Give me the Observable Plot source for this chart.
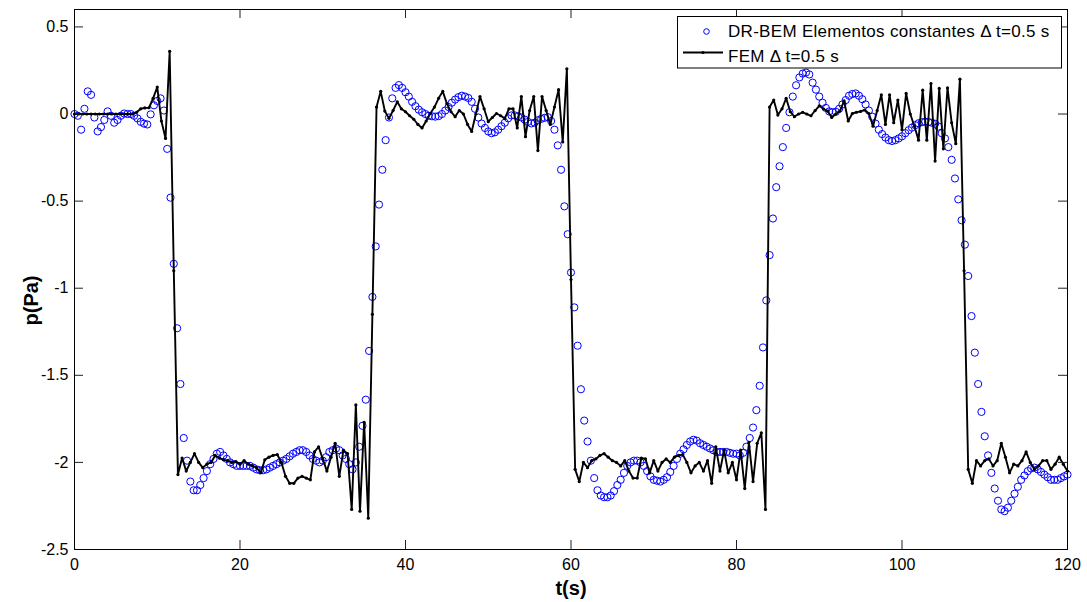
<!DOCTYPE html>
<html><head><meta charset="utf-8">
<script src="https://cdn.jsdelivr.net/npm/d3@7"></script>
<script src="https://cdn.jsdelivr.net/npm/@observablehq/plot@0.6"></script>
<style>html,body{margin:0;padding:0;background:#fff;} svg{display:block}</style>
</head><body><div id="chart"></div>
<script>
// ---- data ----
const xTicks = [0, 20, 40, 60, 80, 100, 120];
const yTicks = [0.5, 0, -0.5, -1, -1.5, -2, -2.5];
const xLabel = "t(s)";
const yLabel = "p(Pa)";
const legendLabels = ["DR-BEM Elementos constantes \u0394 t=0.5 s", "FEM \u0394 t=0.5 s"];

// FEM, sampled every 0.5 s from t = 0 to 120
const femDt = 0.5;
const femP = [
  0,0,0,0,0,0,0,0,0,0,0,0,0,0,0,0.01,0.03,0.035,0.036,0.09,
  0.155,-0.04,-0.14,0.36,-0.9,-2.07,-1.975,-2.05,-2,-1.95,-2,-2.03,-2.01,-2,-1.96,-1.975,-1.985,-1.99,-2,-1.995,
  -2.01,-1.99,-2.01,-2.02,-2.03,-2.06,-1.985,-1.97,-1.96,-1.955,-2,-2.08,-2.12,-2.12,-2.09,-2.08,-2.09,-2.1,-1.94,-1.91,
  -1.98,-2.05,-1.97,-1.89,-2.08,-1.93,-1.95,-2.27,-1.67,-2.28,-1.77,-2.32,-1.15,0.04,0.13,0.017,-0.025,0.02,0.07,0.03,
  0.013,-0.01,-0.03,-0.06,-0.08,-0.04,0.003,0.04,0.09,0.13,0.06,0.013,-0.015,0.02,0,-0.06,-0.1,0,0.1,0.03,
  -0.044,-0.02,0.003,-0.01,-0.025,0.03,0.03,-0.08,0.1,-0.13,0.02,0.1,-0.21,0.1,0.02,-0.06,0.04,0.14,-0.16,0.26,
  -0.95,-2.04,-2.11,-2,-2.03,-1.99,-1.98,-1.96,-1.95,-1.97,-1.99,-2,-2.02,-1.99,-2.05,-2.09,-2.09,-1.975,-1.98,-2.06,
  -1.99,-2.05,-2,-1.98,-2,-1.97,-1.96,-1.955,-2,-2.06,-2.02,-2,-2.05,-1.99,-2.12,-1.91,-2.05,-1.93,-2.06,-2,
  -2.1,-1.93,-2.15,-1.885,-2.11,-1.89,-1.83,-2.27,0.04,0.08,-0.006,0.03,0.09,0.013,-0.015,0,0.01,0,-0.01,0.02,
  0.047,0.03,0.017,-0.02,0,0.017,0.075,-0.04,0.003,0.01,0.015,0.023,0.003,-0.07,0.02,0.11,-0.06,0.11,-0.05,0.08,
  -0.09,0.118,0,-0.07,-0.15,0.137,-0.15,0.175,-0.27,0.147,-0.2,0.15,-0.05,-0.17,0.2,-0.9,-2.04,-2.12,-1.99,-2.02,
  -1.99,-1.98,-2.02,-1.99,-1.89,-1.97,-2.06,-2.01,-2.02,-1.99,-1.94,-2,-2.04,-2.02,-1.99,-1.99,-2.04,-2.01,-1.97,-2.01,-2.05
];

// DR-BEM, read every 0.4 s from t = 0 to 120
const bemDt = 0.4;
const bemP = [
  0,-0.01,-0.09,0.03,0.13,0.11,-0.02,-0.1,-0.075,-0.034,
  0.015,-0.01,-0.05,-0.034,-0.01,0.003,0,0,-0.01,-0.025,
  -0.045,-0.055,-0.06,-0.002,0.05,0.075,0.09,0.02,-0.2,-0.48,
  -0.86,-1.23,-1.55,-1.86,-1.99,-2.11,-2.16,-2.16,-2.13,-2.09,
  -2.05,-2.01,-1.98,-1.95,-1.94,-1.96,-1.98,-2,-2.01,-2.02,
  -2.02,-2.02,-2.02,-2.02,-2.03,-2.04,-2.045,-2.045,-2.04,-2.03,
  -2.02,-2.01,-2,-1.99,-1.98,-1.965,-1.95,-1.94,-1.93,-1.93,
  -1.94,-1.96,-1.98,-1.99,-2,-1.99,-1.97,-1.94,-1.93,-1.92,
  -1.93,-1.96,-1.98,-2.01,-2.04,-2,-1.91,-1.79,-1.64,-1.36,
  -1.05,-0.76,-0.52,-0.32,-0.15,-0.02,0.09,0.15,0.166,0.15,
  0.125,0.1,0.07,0.045,0.025,0.01,0,-0.01,-0.013,-0.015,
  -0.012,0,0.02,0.04,0.065,0.083,0.097,0.105,0.1,0.092,
  0.07,0.03,-0.02,-0.055,-0.08,-0.1,-0.11,-0.105,-0.09,-0.07,
  -0.05,-0.025,-0.008,-0.008,-0.013,-0.02,-0.032,-0.045,-0.054,-0.05,
  -0.036,-0.028,-0.022,-0.018,-0.04,-0.09,-0.18,-0.32,-0.53,-0.69,
  -0.91,-1.11,-1.33,-1.58,-1.76,-1.88,-1.99,-2.09,-2.16,-2.19,
  -2.2,-2.2,-2.19,-2.165,-2.13,-2.1,-2.06,-2.02,-2,-1.99,
  -1.99,-2,-2.02,-2.05,-2.08,-2.1,-2.105,-2.11,-2.1,-2.085,
  -2.055,-2.02,-1.98,-1.95,-1.925,-1.9,-1.88,-1.87,-1.875,-1.89,
  -1.9,-1.91,-1.92,-1.93,-1.94,-1.94,-1.94,-1.94,-1.945,-1.95,
  -1.95,-1.96,-1.945,-1.91,-1.86,-1.8,-1.7,-1.56,-1.34,-1.07,
  -0.81,-0.6,-0.42,-0.3,-0.19,-0.08,0.01,0.1,0.165,0.21,
  0.232,0.238,0.227,0.18,0.14,0.1,0.065,0.035,0.015,0.01,
  0.013,0.03,0.055,0.08,0.105,0.115,0.118,0.105,0.085,0.055,
  0.02,-0.015,-0.055,-0.09,-0.115,-0.135,-0.15,-0.155,-0.15,-0.14,
  -0.128,-0.11,-0.093,-0.078,-0.064,-0.053,-0.047,-0.044,-0.046,-0.05,
  -0.056,-0.072,-0.11,-0.14,-0.19,-0.263,-0.37,-0.49,-0.61,-0.75,
  -0.93,-1.16,-1.37,-1.55,-1.71,-1.85,-1.96,-2.06,-2.15,-2.22,
  -2.27,-2.28,-2.26,-2.22,-2.18,-2.14,-2.1,-2.075,-2.05,-2.035,
  -2.03,-2.04,-2.055,-2.07,-2.085,-2.1,-2.1,-2.1,-2.09,-2.08,
  -2.07
];

// ---- build tables ----
const fem = femP.map((p, i) => ({t: i * femDt, p}));
const bem = bemP.map((p, i) => ({t: i * bemDt, p}));

const W = 1087, H = 602, mL = 74, mR = 20, mT = 9, mB = 53;
const plotW = W - mL - mR, plotH = H - mT - mB;
const tickLen = 9;
const font = "'Liberation Sans', Arial, Helvetica, sans-serif";
const blue = "#0000ff";

const chart = Plot.plot({
  width: W, height: H,
  marginLeft: mL, marginRight: mR, marginTop: mT, marginBottom: mB,
  style: {fontFamily: font, background: "#fff", color: "#000"},
  x: {domain: [0, 120]},
  y: {domain: [-2.5, 0.6]},
  marks: [
    Plot.dot(bem, {x: "t", y: "p", r: 3.6, stroke: blue, strokeWidth: 1, fill: "none"}),
    Plot.line(fem, {x: "t", y: "p", stroke: "#000", strokeWidth: 1.9}),
    Plot.dot(fem, {x: "t", y: "p", r: 1.6, fill: "#000", stroke: "none"}),
    // inward ticks on all four sides
    Plot.tickX(xTicks, {x: d => d, insetTop: plotH - tickLen, stroke: "#222", strokeWidth: 1}),
    Plot.tickX(xTicks, {x: d => d, insetBottom: plotH - tickLen, stroke: "#222", strokeWidth: 1}),
    Plot.tickY(yTicks, {y: d => d, insetRight: plotW - tickLen, stroke: "#222", strokeWidth: 1}),
    Plot.tickY(yTicks, {y: d => d, insetLeft: plotW - tickLen, stroke: "#222", strokeWidth: 1}),
    Plot.frame({stroke: "#000", strokeWidth: 1}),
    Plot.axisX({ticks: xTicks, tickSize: 0, tickPadding: 9, tickFormat: d => String(d),
                fontSize: 16, label: null, letterSpacing: "0.8px"}),
    Plot.axisY({ticks: yTicks, tickSize: 0, tickPadding: 6, tickFormat: d => String(d),
                fontSize: 16, label: null, letterSpacing: "0.8px"}),
    Plot.text([xLabel], {text: d => d, frameAnchor: "bottom", lineAnchor: "middle", textAnchor: "middle",
                         dy: 38.6, fontSize: 20, fontWeight: "bold"}),
    Plot.text([yLabel], {text: d => d, frameAnchor: "left", lineAnchor: "middle", textAnchor: "middle",
                         dx: -43, dy: 21, rotate: -90, fontSize: 20, fontWeight: "bold"})
  ]
});
document.getElementById("chart").appendChild(chart);

// ---- legend box (inside the axes, top right) ----
const svg = d3.select(chart);
const lg = svg.append("g").attr("font-family", font).attr("font-size", 17)
  .attr("letter-spacing", "0.3px").attr("fill", "#000").attr("text-anchor", "start");
lg.append("rect").attr("x", 677.5).attr("y", 16.5).attr("width", 384).attr("height", 51.5)
  .attr("fill", "#fff").attr("stroke", "#000").attr("stroke-width", 1);
lg.append("circle").attr("cx", 706.5).attr("cy", 31.5).attr("r", 2.8)
  .attr("fill", "none").attr("stroke", blue).attr("stroke-width", 1);
lg.append("text").attr("x", 728).attr("y", 37).text(legendLabels[0]);
lg.append("line").attr("x1", 683).attr("x2", 723).attr("y1", 52.5).attr("y2", 52.5)
  .attr("stroke", "#000").attr("stroke-width", 1.9);
lg.append("circle").attr("cx", 703).attr("cy", 52.5).attr("r", 1.6).attr("fill", "#000");
lg.append("text").attr("x", 728).attr("y", 62).text(legendLabels[1]);
</script>
</body></html>
